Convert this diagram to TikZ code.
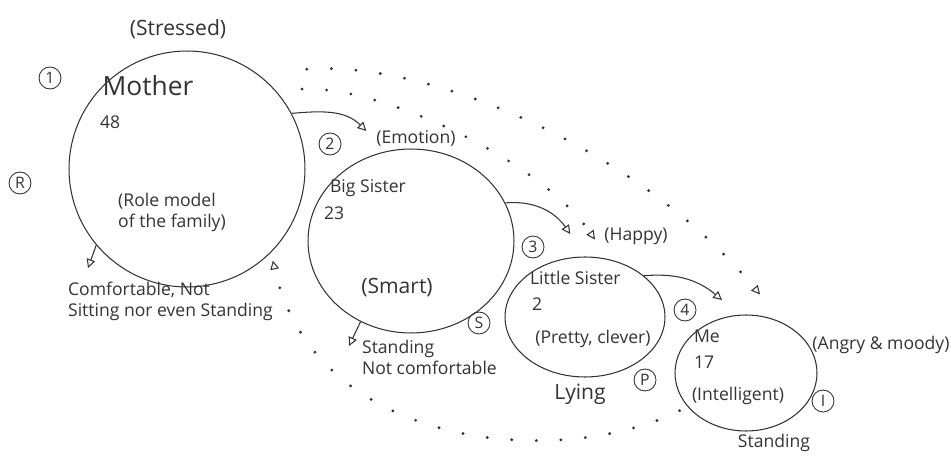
\documentclass[tikz,border=0pt]{standalone}
\usepackage{fontspec}
\setmainfont{Open Sans}
\usetikzlibrary{positioning, arrows.meta, shapes.geometric}
\definecolor{pencil}{HTML}{333333}

\begin{document}
\begin{tikzpicture}[x=0.02cm, y=-0.02cm,
  person/.style={draw=pencil, ellipse, line width=0.6pt, inner sep=0pt},
  note/.style={text=pencil, font=\fontsize{10}{12}\selectfont, inner sep=1pt},
  bignote/.style={note, font=\fontsize{12}{14}\selectfont},
  tag/.style={draw=pencil, circle, line width=0.5pt, minimum size=0.44cm, inner sep=0pt,
    font=\fontsize{9}{10}\selectfont, text=pencil},
  link/.style={draw=pencil, line width=0.6pt, -{Triangle[open, length=5pt, width=5pt]}},
  dotlink/.style={draw=pencil, line width=1.8pt, line cap=round, dash pattern=on 0pt off 14pt,
    -{Triangle[open, length=5pt, width=5pt, line width=0.6pt]}}
]
\useasboundingbox (0,0) rectangle (951,473);

% Mother
\node[person, minimum width=4.72cm, minimum height=4.72cm] (mother) at (187,169) {};
\node[bignote] (stressed) at (178,29) {(Stressed)};
\node[tag] (n1) at (50,78) {1};
\node[note, font=\fontsize{15}{16}\selectfont] (mname) at (148,86) {Mother};
\node[note, anchor=west] (mage) at (98,122) {48};
\node[tag] (tR) at (20,183) {R};
\node[note, align=left] (mrole) at (172,212) {(Role model\\of the family)};
\node[note, align=left, anchor=north west] (comfort) at (66,280) {Comfortable, Not\\Sitting nor even Standing};
\coordinate (c1) at (88,268);
\draw[link] (mother.-140) -- (c1);

% Big sister
\node[person, minimum width=4.12cm, minimum height=3.68cm] (bigsis) at (411,241) {};
\node[tag] (n2) at (330,144) {2};
\node[note] (emotion) at (416,138) {(Emotion)};
\node[note, anchor=west] (bname) at (328,188) {Big Sister};
\node[note, anchor=west] (bage) at (322,213) {23};
\node[bignote] (bsmart) at (397,288) {(Smart)};
\node[tag] (tS) at (479,323) {S};
\node[note, align=left, anchor=north west] (bstand) at (360,338) {Standing\\Not comfortable};
\coordinate (c2) at (349,346);
\draw[link] (mother.28) to[out=5,in=135] ([shift={(-8,-7)}]emotion.west);
\draw[link] (bigsis.-122) -- (c2);

% Little sister
\node[person, minimum width=3.2cm, minimum height=2.4cm] (little) at (585,317) {};
\node[tag] (n3) at (533,247) {3};
\node[note] (happy) at (636,236) {(Happy)};
\node[note, anchor=west] (lname) at (528,278) {Little Sister};
\node[note, anchor=west] (lage) at (530,304) {2};
\node[note] (lpretty) at (593,339) {(Pretty, clever)};
\node[tag] (tP) at (645,380) {P};
\node[bignote] (llying) at (580,394) {Lying};
\draw[link] (bigsis.22) to[out=5,in=125] ([shift={(-32,-2)}]happy.west);

% Me
\node[person, minimum width=2.84cm, minimum height=2.32cm] (me) at (746,373) {};
\node[tag] (n4) at (685,310) {4};
\node[note, anchor=west] (mename) at (692,336) {Me};
\node[note, anchor=west] (meage) at (692,362) {17};
\node[note] (meint) at (738,396) {(Intelligent)};
\node[tag] (tI) at (823,401) {I};
\node[note] (meangry) at (881,345) {(Angry \& moody)};
\node[note] (mestand) at (774,443) {Standing};
\coordinate (c3) at (722,300);
\draw[link] (little.35) to[out=5,in=140] (c3);

% dotted loops
\draw[dotlink] ([shift={(36,-16)}]mother.45) .. controls (430,60) and (640,150) .. ([shift={(14,-20)}]me.north);
\draw[dotlink] ([shift={(18,-12)}]mother.35) .. controls (380,85) and (540,160) .. ([shift={(10,-17)}]little.north);
\draw[dotlink] ([shift={(-8,4)}]me.210) .. controls (560,470) and (315,450) .. ([shift={(5,5)}]mother.-47);
\end{tikzpicture}
\end{document}
